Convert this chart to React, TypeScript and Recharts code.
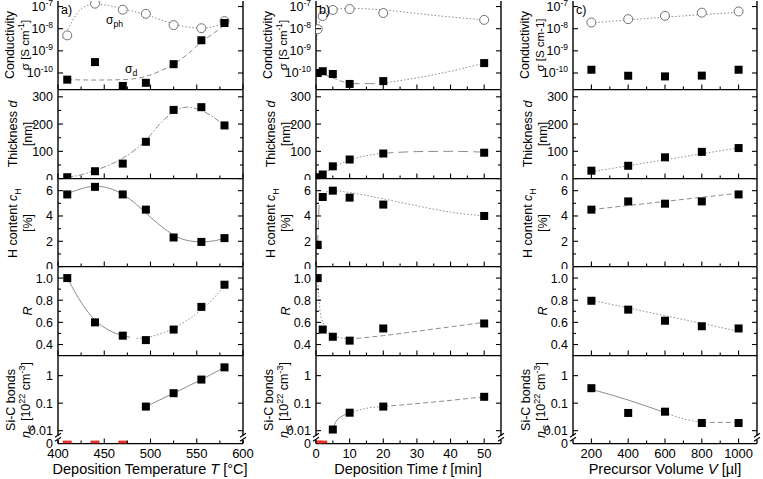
import React from "react";
import { ComposedChart, Line, Scatter, XAxis, YAxis } from "recharts";

const FONT = '"Liberation Sans", Arial, Helvetica, sans-serif';
const INK = "#000";
const FIT = "#8c8c8c";
const RED = "#e8352b";

// x values of the three series
const tempC = [410, 440, 470, 495, 525, 555, 580];
const timeMin = [0.5, 2, 5, 10, 20, 50];
const volUl = [200, 400, 600, 800, 1000];

// a) deposition temperature
const sigPhA = [5e-9, 1.35e-7, 7.2e-8, 4.7e-8, 1.45e-8, 1.05e-8, 2.2e-8];
const sigDA = [5e-11, 3.1e-10, 2.6e-11, 3.6e-11, 2.5e-10, 3e-9, 1.8e-8];
const thickA = [5, 27, 55, 135, 252, 262, 195];
const hA = [5.7, 6.3, 5.7, 4.5, 2.3, 1.95, 2.25];
const rA = [1.0, 0.6, 0.48, 0.44, 0.535, 0.74, 0.94];
const sicA = [0, 0, 0, 0.075, 0.23, 0.72, 2.0];

// b) deposition time
const sigPhB = [9.5e-9, 3.7e-8, 7e-8, 7.7e-8, 5.1e-8, 2.5e-8];
const sigDB = [1e-10, 1.2e-10, 9e-11, 3.2e-11, 4.3e-11, 2.8e-10];
const thickB = [5, 15, 45, 70, 92, 95];
const hB = [1.7, 5.5, 6.0, 5.45, 4.9, 4.0];
const rB = [1.0, 0.535, 0.47, 0.435, 0.545, 0.59];
const sicB = [0, 0, 0.011, 0.045, 0.075, 0.17];

// c) precursor volume
const sigPhC = [1.9e-8, 2.7e-8, 3.8e-8, 5.3e-8, 6e-8];
const sigDC = [1.4e-10, 7.5e-11, 7e-11, 7.6e-11, 1.4e-10];
const thickC = [29, 47, 78, 98, 112];
const hC = [4.5, 5.15, 4.97, 5.15, 5.7];
const rC = [0.795, 0.715, 0.615, 0.565, 0.545];
const sicC = [0.35, 0.044, 0.049, 0.019, 0.019];

// guide-to-the-eye curves, [x, y]
const fitSigPhA = [[405, 3.5e-9], [412, 1.2e-8], [420, 4.5e-8], [430, 1.05e-7], [440, 1.3e-7], [455, 1.1e-7], [475, 7e-8], [495, 4.3e-8], [515, 2.2e-8], [535, 1.3e-8], [555, 1.05e-8], [570, 1.3e-8], [580, 2e-8]];
const fitSigDA = [[410, 5e-11], [440, 4.8e-11], [470, 5e-11], [495, 7e-11], [510, 1.2e-10], [525, 2.5e-10], [540, 7e-10], [555, 2.5e-9], [570, 7e-9], [580, 1.5e-8]];
const fitThickA = [[410, 5], [425, 14], [440, 30], [470, 75], [495, 140], [510, 200], [525, 245], [540, 262], [555, 250], [580, 195]];
const fitHA = [[410, 5.75], [425, 6.15], [440, 6.35], [455, 6.2], [470, 5.7], [485, 4.9], [500, 3.9], [515, 3.0], [530, 2.3], [545, 2.0], [555, 1.95], [570, 2.05], [580, 2.25]];
const fitRA1 = [[410, 1.0], [420, 0.85], [430, 0.72], [440, 0.62], [455, 0.53], [470, 0.48], [478, 0.465]];
const fitRA2 = [[485, 0.455], [500, 0.47], [515, 0.51], [530, 0.57], [545, 0.65], [560, 0.75], [580, 0.93]];
const fitSicA = [[495, 0.075], [525, 0.23], [555, 0.72], [580, 2.0]];

const fitSigPhB = [[0.2, 3e-9], [0.5, 9e-9], [1, 2e-8], [2, 4e-8], [3.5, 6e-8], [5, 7.2e-8], [10, 8.3e-8], [20, 7e-8], [35, 4e-8], [50, 2.5e-8]];
const fitSigDB1 = [[0.3, 1.05e-10], [2, 9e-11], [5, 6e-11], [8, 4e-11], [10, 3.3e-11]];
const fitSigDB2 = [[10, 3.3e-11], [20, 3.3e-11]];
const fitSigDB3 = [[20, 3.5e-11], [30, 6e-11], [40, 1.2e-10], [50, 2.8e-10]];
const fitThickB1 = [[0, 0], [2, 16], [5, 40], [10, 68], [15, 84], [20, 93]];
const fitThickB2 = [[20, 93], [30, 99], [40, 100], [50, 97]];
const fitHB1 = [[0.5, 1.7], [0.7, 3.5], [1, 5.0], [1.5, 5.5]];
const fitHB2 = [[1.5, 5.5], [3, 5.9], [5, 6.0], [10, 5.85], [20, 5.35], [30, 4.8], [40, 4.3], [50, 4.0]];
const fitRB1 = [[0.5, 1.0], [0.8, 0.85], [1.2, 0.7], [2, 0.6], [3.5, 0.52], [5, 0.485], [7.5, 0.46], [10, 0.45]];
const fitRB2 = [[12, 0.455], [20, 0.48], [35, 0.54], [50, 0.6]];
const fitSicB1 = [[5, 0.011], [6, 0.022], [8, 0.035], [10, 0.045]];
const fitSicB2 = [[10, 0.045], [15, 0.065], [20, 0.075]];
const fitSicB3 = [[20, 0.075], [35, 0.11], [50, 0.17]];

const fitSigPhC = [[200, 1.8e-8], [400, 2.5e-8], [600, 3.3e-8], [800, 4.3e-8], [1000, 5.5e-8]];
const fitThickC = [[200, 25], [1000, 113]];
const fitHC = [[200, 4.5], [1000, 5.8]];
const fitRC = [[200, 0.8], [1000, 0.52]];
const fitSicC1 = [[200, 0.32], [400, 0.13], [600, 0.045]];
const fitSicC2 = [[600, 0.045], [700, 0.027], [800, 0.02]];
const fitSicC3 = [[800, 0.02], [1000, 0.02]];

// layout
const ROW0 = 1;
const ROW_H = 88.6;
const LW = 58;
const RW = 14;
const TP = 2;
const ZERO = 10 ** -2.47;
const TICK_FS = 12.5;

const DOT = "1.5 2";
const DASH = "5 3";
const LONG = "10 5";
const DASHDOT = "6 2 1.5 2";

type XY = { x: number; y: number };
type Fit = { pts: number[][]; dash: string };
type ColCfg = { left: number; width: number; domain: number[]; major: number[]; minor: number[] };
type YCfg = {
  domain: number[];
  log?: boolean;
  major: number[];
  minor: number[];
  label: (v: number) => React.ReactNode;
  brk?: boolean;
};

const COL_A: ColCfg = { left: 58, width: 185, domain: [400, 600], major: [400, 450, 500, 550, 600], minor: [425, 475, 525, 575] };
const COL_B: ColCfg = { left: 316, width: 185, domain: [0, 55], major: [0, 10, 20, 30, 40, 50], minor: [5, 15, 25, 35, 45] };
const COL_C: ColCfg = { left: 573, width: 184, domain: [100, 1100], major: [200, 400, 600, 800, 1000], minor: [300, 500, 700, 900] };

const expLabel = (v: number) => (
  <>
    <tspan>10</tspan>
    <tspan dy={-5} fontSize={8.5}>{String(Math.round(Math.log10(v)))}</tspan>
  </>
);

const Y_SIGMA: YCfg = { domain: [10 ** -10.75, 10 ** -6.75], log: true, major: [1e-10, 1e-9, 1e-8, 1e-7], minor: [], label: expLabel };
const Y_THICK: YCfg = { domain: [0, 325], major: [0, 100, 200, 300], minor: [50, 150, 250], label: (v) => String(v) };
const Y_H: YCfg = { domain: [0, 7], major: [0, 2, 4, 6], minor: [1, 3, 5], label: (v) => String(v) };
const Y_R: YCfg = { domain: [0.3, 1.1], major: [0.4, 0.6, 0.8, 1.0], minor: [0.5, 0.7, 0.9], label: (v) => v.toFixed(1) };
const Y_SIC: YCfg = {
  domain: [ZERO, 10 ** 0.75],
  log: true,
  major: [ZERO, 0.01, 0.1, 1],
  minor: [],
  label: (v) => (v === ZERO ? "0" : String(v)),
  brk: true,
};

const pairs = (xs: number[], ys: number[]): XY[] => xs.map((x, i) => ({ x, y: ys[i] }));
const toXY = (pts: number[][]): XY[] => pts.map(([x, y]) => ({ x, y }));
const nonZero = (xs: number[], ys: number[]) => pairs(xs, ys).filter((p) => p.y > 0);
const zeros = (xs: number[], ys: number[]) => pairs(xs, ys).filter((p) => p.y === 0).map((p) => ({ x: p.x, y: ZERO }));

const AXIS = { stroke: INK, strokeWidth: 1.4 };

function xTick(p: any, major: number[], label: boolean, dir: number) {
  const v = p.payload.value;
  const big = major.includes(v);
  return (
    <g>
      <line x1={p.x} x2={p.x} y1={p.y} y2={p.y + dir * (big ? 5 : 3)} stroke={INK} strokeWidth={1.1} />
      {label && big && (
        <text x={p.x} y={p.y + 14} textAnchor="middle" fontSize={13} fontFamily={FONT} fill={INK}>
          {v}
        </text>
      )}
    </g>
  );
}

function yTick(p: any, y: YCfg, left: boolean) {
  const v = p.payload.value;
  const big = y.major.includes(v);
  const dir = left ? 1 : -1;
  return (
    <g>
      {v !== ZERO && (
        <line x1={p.x} x2={p.x + dir * (big ? 5 : 3)} y1={p.y} y2={p.y} stroke={INK} strokeWidth={1.1} />
      )}
      {left && big && (
        <text x={p.x - 5} y={p.y} dy="0.36em" textAnchor="end" fontSize={TICK_FS} fontFamily={FONT} fill={INK}>
          {y.label(v)}
        </text>
      )}
    </g>
  );
}

const squareShape = (p: any) => <rect x={p.cx - 4} y={p.cy - 4} width={8} height={8} fill={INK} />;
const circleShape = (p: any) => <circle cx={p.cx} cy={p.cy} r={4.5} fill="#fff" stroke="#6e6e6e" strokeWidth={1} />;
const redShape = (p: any) => <rect x={p.cx - 4.5} y={p.cy - 3} width={9} height={3} fill={RED} />;

interface PanelProps {
  col: ColCfg;
  row: number;
  y: YCfg;
  squares: XY[];
  circles?: XY[];
  reds?: XY[];
  fits: Fit[];
}

function Panel({ col, row, y, squares, circles = [], reds = [], fits }: PanelProps) {
  const last = row === 4;
  const top = ROW0 + row * ROW_H;
  const bh = last ? 34 : 2;
  const w = LW + col.width + RW;
  const h = TP + ROW_H + bh;
  const scale = y.log ? "log" : "linear";
  const corners = [
    { x: col.domain[0], y: y.domain[0] },
    { x: col.domain[1], y: y.domain[1] },
  ];
  const yTicks = [...y.major, ...y.minor];
  const xTicks = [...col.major, ...col.minor];
  // break mark position on the log axis
  let brkY = 0;
  if (y.brk) {
    const lo = Math.log10(y.domain[0]);
    const hi = Math.log10(y.domain[1]);
    brkY = TP + ROW_H * (1 - (Math.log10(0.0055) - lo) / (hi - lo));
  }
  return (
    <div style={{ position: "absolute", left: col.left - LW, top: top - TP, width: w, height: h }}>
      <ComposedChart width={w} height={h} margin={{ top: TP, right: 0, bottom: 0, left: 0 }}>
        <XAxis xAxisId="b" orientation="bottom" type="number" dataKey="x" domain={col.domain} allowDataOverflow
          ticks={xTicks} interval={0} height={bh} tickSize={0} tickMargin={0} tickLine={false} axisLine={AXIS}
          tick={(p: any) => xTick(p, col.major, last, -1)} />
        <XAxis xAxisId="t" orientation="top" type="number" dataKey="x" domain={col.domain} allowDataOverflow
          ticks={xTicks} interval={0} height={0} tickSize={0} tickMargin={0} tickLine={false} axisLine={AXIS}
          tick={(p: any) => xTick(p, col.major, false, 1)} />
        <YAxis yAxisId="l" orientation="left" type="number" dataKey="y" scale={scale} domain={y.domain} allowDataOverflow
          ticks={yTicks} interval={0} width={LW} tickSize={0} tickMargin={0} tickLine={false} axisLine={AXIS}
          tick={(p: any) => yTick(p, y, true)} />
        <YAxis yAxisId="r" orientation="right" type="number" dataKey="y" scale={scale} domain={y.domain} allowDataOverflow
          ticks={yTicks} interval={0} width={RW} tickSize={0} tickMargin={0} tickLine={false} axisLine={AXIS}
          tick={(p: any) => yTick(p, y, false)} />
        <Line xAxisId="t" yAxisId="r" data={corners} dataKey="y" stroke="none" dot={false} isAnimationActive={false} />
        {fits.map((f, i) => (
          <Line key={i} xAxisId="b" yAxisId="l" data={toXY(f.pts)} dataKey="y" type="monotone" stroke={FIT}
            strokeWidth={1} strokeDasharray={f.dash || undefined} dot={false} isAnimationActive={false} />
        ))}
        {circles.length > 0 && (
          <Scatter xAxisId="b" yAxisId="l" data={circles} dataKey="y" shape={circleShape} isAnimationActive={false} />
        )}
        <Scatter xAxisId="b" yAxisId="l" data={squares} dataKey="y" shape={squareShape} isAnimationActive={false} />
        {reds.length > 0 && (
          <Scatter xAxisId="b" yAxisId="l" data={reds} dataKey="y" shape={redShape} isAnimationActive={false} />
        )}
      </ComposedChart>
      {y.brk && (
        <svg width={w} height={h} style={{ position: "absolute", left: 0, top: 0, pointerEvents: "none" }}>
          {[LW, LW + col.width].map((bx) => (
            <g key={bx}>
              <rect x={bx - 3} y={brkY - 2} width={6} height={4} fill="#fff" />
              <line x1={bx - 3} y1={brkY - 0.5} x2={bx + 3} y2={brkY - 4.5} stroke={INK} strokeWidth={1.2} />
              <line x1={bx - 3} y1={brkY + 3.5} x2={bx + 3} y2={brkY - 0.5} stroke={INK} strokeWidth={1.2} />
            </g>
          ))}
        </svg>
      )}
    </div>
  );
}

const sup = (s: string) => <span style={{ fontSize: "0.72em", verticalAlign: "super", lineHeight: 0 }}>{s}</span>;
const sub = (s: string) => <span style={{ fontSize: "0.72em", verticalAlign: "sub", lineHeight: 0 }}>{s}</span>;

function VText({ cx, cy, size = 12.5, children }: { cx: number; cy: number; size?: number; children: React.ReactNode }) {
  return (
    <div
      style={{
        position: "absolute",
        left: cx - 70,
        top: cy - 8,
        width: 140,
        height: 16,
        lineHeight: "16px",
        textAlign: "center",
        whiteSpace: "nowrap",
        fontSize: size,
        fontFamily: FONT,
        transform: "rotate(-90deg)",
      }}
    >
      {children}
    </div>
  );
}

function HText({ x, y, size = 13, center = false, children }: { x: number; y: number; size?: number; center?: boolean; children: React.ReactNode }) {
  return (
    <div
      style={{
        position: "absolute",
        left: center ? x - 150 : x,
        top: y - 8,
        width: center ? 300 : undefined,
        lineHeight: "16px",
        textAlign: center ? "center" : "left",
        whiteSpace: "nowrap",
        fontSize: size,
        fontFamily: FONT,
      }}
    >
      {children}
    </div>
  );
}

const rowC = (i: number) => ROW0 + ROW_H * (i + 0.5);

function Titles({ dx, plainUnit }: { dx: number; plainUnit?: boolean }) {
  return (
    <>
      <VText cx={dx + 10} cy={rowC(0)}>Conductivity</VText>
      <VText cx={dx + 25} cy={rowC(0)} size={11.5}>
        σ [S cm{plainUnit ? "-1" : sup("-1")}]
      </VText>
      <VText cx={dx + 13} cy={rowC(1)}>
        Thickness <i>d</i>
      </VText>
      <VText cx={dx + 28} cy={rowC(1)}>[nm]</VText>
      <VText cx={dx + 13} cy={rowC(2)}>
        H content <i>c</i>
        {sub("H")}
      </VText>
      <VText cx={dx + 28} cy={rowC(2)}>[%]</VText>
      <VText cx={dx + 28} cy={rowC(3)}>
        <i>R</i>
      </VText>
      <VText cx={dx + 11} cy={rowC(4)}>Si-C bonds</VText>
      <VText cx={dx + 26} cy={rowC(4)}>
        <i>n</i>
        {sub("C")} [10{sup("22")} cm{sup("-3")}]
      </VText>
    </>
  );
}

export default function App() {
  return (
    <div style={{ position: "absolute", left: 0, top: 0, width: 763, height: 479, background: "#fff", overflow: "hidden" }}>
      {/* a) temperature series */}
      <Panel col={COL_A} row={0} y={Y_SIGMA} squares={pairs(tempC, sigDA)} circles={pairs(tempC, sigPhA)}
        fits={[{ pts: fitSigPhA, dash: DOT }, { pts: fitSigDA, dash: DASH }]} />
      <Panel col={COL_A} row={1} y={Y_THICK} squares={pairs(tempC, thickA)} fits={[{ pts: fitThickA, dash: DASHDOT }]} />
      <Panel col={COL_A} row={2} y={Y_H} squares={pairs(tempC, hA)} fits={[{ pts: fitHA, dash: "" }]} />
      <Panel col={COL_A} row={3} y={Y_R} squares={pairs(tempC, rA)}
        fits={[{ pts: fitRA1, dash: "" }, { pts: fitRA2, dash: DOT }]} />
      <Panel col={COL_A} row={4} y={Y_SIC} squares={nonZero(tempC, sicA)} reds={zeros(tempC, sicA)}
        fits={[{ pts: fitSicA, dash: "" }]} />

      {/* b) time series */}
      <Panel col={COL_B} row={0} y={Y_SIGMA} squares={pairs(timeMin, sigDB)} circles={pairs(timeMin, sigPhB)}
        fits={[{ pts: fitSigPhB, dash: DOT }, { pts: fitSigDB1, dash: DASH }, { pts: fitSigDB2, dash: LONG }, { pts: fitSigDB3, dash: DOT }]} />
      <Panel col={COL_B} row={1} y={Y_THICK} squares={pairs(timeMin, thickB)}
        fits={[{ pts: fitThickB1, dash: DOT }, { pts: fitThickB2, dash: LONG }]} />
      <Panel col={COL_B} row={2} y={Y_H} squares={pairs(timeMin, hB)}
        fits={[{ pts: fitHB1, dash: LONG }, { pts: fitHB2, dash: DOT }]} />
      <Panel col={COL_B} row={3} y={Y_R} squares={pairs(timeMin, rB)}
        fits={[{ pts: fitRB1, dash: DOT }, { pts: fitRB2, dash: DASH }]} />
      <Panel col={COL_B} row={4} y={Y_SIC} squares={nonZero(timeMin, sicB)} reds={zeros(timeMin, sicB)}
        fits={[{ pts: fitSicB1, dash: "" }, { pts: fitSicB2, dash: DOT }, { pts: fitSicB3, dash: DASH }]} />

      {/* c) volume series */}
      <Panel col={COL_C} row={0} y={Y_SIGMA} squares={pairs(volUl, sigDC)} circles={pairs(volUl, sigPhC)}
        fits={[{ pts: fitSigPhC, dash: DOT }]} />
      <Panel col={COL_C} row={1} y={Y_THICK} squares={pairs(volUl, thickC)} fits={[{ pts: fitThickC, dash: DOT }]} />
      <Panel col={COL_C} row={2} y={Y_H} squares={pairs(volUl, hC)} fits={[{ pts: fitHC, dash: DASH }]} />
      <Panel col={COL_C} row={3} y={Y_R} squares={pairs(volUl, rC)} fits={[{ pts: fitRC, dash: DOT }]} />
      <Panel col={COL_C} row={4} y={Y_SIC} squares={pairs(volUl, sicC)}
        fits={[{ pts: fitSicC1, dash: "" }, { pts: fitSicC2, dash: DOT }, { pts: fitSicC3, dash: DASH }]} />

      <Titles dx={0} />
      <Titles dx={258} />
      <Titles dx={515} plainUnit />

      <HText x={61} y={10} size={12.5}>a)</HText>
      <HText x={319} y={10} size={12.5}>b)</HText>
      <HText x={576} y={10} size={12.5}>c)</HText>

      <HText x={106} y={20} size={12}>σ{sub("ph")}</HText>
      <HText x={125} y={69} size={12}>σ{sub("d")}</HText>

      <HText x={150} y={469} size={14.5} center>
        Deposition Temperature <i>T</i> [°C]
      </HText>
      <HText x={408} y={469} size={14.5} center>
        Deposition Time <i>t</i> [min]
      </HText>
      <HText x={665} y={469} size={14.5} center>
        Precursor Volume <i>V</i> [µl]
      </HText>
    </div>
  );
}
